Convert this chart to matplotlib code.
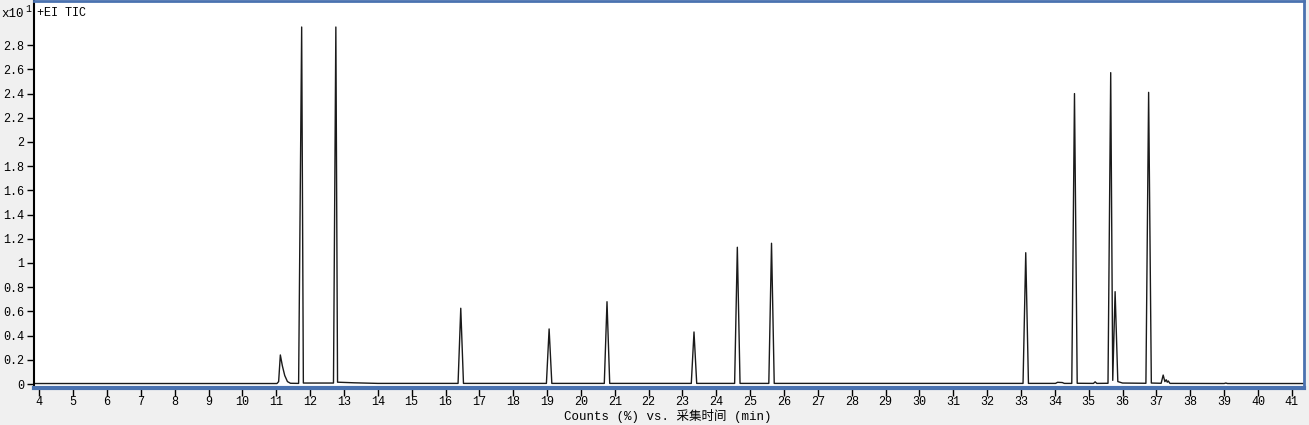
import matplotlib.pyplot as plt
from matplotlib.ticker import FuncFormatter

# retention time (min) and counts (x10^1), peak by peak
rt = [3.88, 11.02,
      11.07, 11.12, 11.18, 11.25, 11.33, 11.42,      # small peak with tail
      11.66, 11.75, 11.80,                           # big peak 1
      12.69, 12.76, 12.81, 13.3, 14.0,               # big peak 2
      16.37, 16.45, 16.53,
      18.98, 19.06, 19.14,
      20.69, 20.77, 20.85,
      23.26, 23.34, 23.42,
      24.54, 24.62, 24.70,
      25.55, 25.63, 25.71,
      33.06, 33.14, 33.22,
      34.02, 34.08, 34.22, 34.28,
      34.50, 34.58, 34.66,
      35.14, 35.19, 35.24,
      35.57, 35.65, 35.71, 35.78, 35.86, 36.0,
      36.69, 36.77, 36.85,
      37.14, 37.20, 37.25, 37.29, 37.32, 37.35, 37.40,
      39.00, 39.05, 39.10, 41.36]
counts = [0.004, 0.004,
          0.02, 0.24, 0.15, 0.07, 0.02, 0.006,
          0.005, 2.95, 0.008,
          0.008, 2.95, 0.015, 0.01, 0.005,
          0.005, 0.626, 0.005,
          0.005, 0.455, 0.005,
          0.005, 0.68, 0.005,
          0.005, 0.43, 0.005,
          0.005, 1.13, 0.005,
          0.005, 1.163, 0.005,
          0.005, 1.085, 0.005,
          0.005, 0.014, 0.012, 0.005,
          0.005, 2.40, 0.006,
          0.005, 0.018, 0.005,
          0.006, 2.573, 0.03, 0.763, 0.02, 0.008,
          0.006, 2.41, 0.008,
          0.006, 0.074, 0.02, 0.035, 0.015, 0.025, 0.005,
          0.004, 0.008, 0.004, 0.004]

xticks = list(range(4, 42))
yticks = [i * 0.2 for i in range(15)]

blue = '#4a72b0'
mono = 'Liberation Mono'

fig = plt.figure(figsize=(13.09, 4.25), dpi=100, facecolor='#f0f0f0')
ax = fig.add_axes([34/1309, 1 - 388/425, 1270/1309, 387/425])
ax.set_facecolor('white')

ax.plot(rt, counts, color='#1a1a1a', lw=1.0)

ax.set_xlim(3.843, 41.36)
ax.set_ylim(-0.033, 3.165)
ax.set_xticks(xticks)
ax.set_yticks(yticks)
ax.yaxis.set_major_formatter(FuncFormatter(lambda v, p: f'{round(v, 1):g}'))

for lab in ax.get_xticklabels() + ax.get_yticklabels():
    lab.set_family(mono)
    lab.set_fontsize(8.5)
ax.tick_params(axis='x', direction='out', length=6, width=1, color='black', pad=0)
ax.tick_params(axis='y', direction='out', length=5, width=1, color='black', pad=2)

ax.spines['left'].set_color('black')
ax.spines['left'].set_linewidth(1.5)
ax.spines['top'].set_color(blue)
ax.spines['top'].set_linewidth(2)
ax.spines['right'].set_color(blue)
ax.spines['right'].set_linewidth(2)
ax.spines['bottom'].set_color(blue)
ax.spines['bottom'].set_linewidth(3)

fig.text(1/1309, 1 - 17/425, 'x10', family=mono, fontsize=9)
fig.text(25/1309, 1 - 12/425, '1', family=mono, fontsize=7)
fig.text(37/1309, 1 - 16/425, '+EI TIC', family=mono, fontsize=8.5)
fig.text(668/1309, 1 - 420/425, 'Counts (%) vs. 采集时间 (min)',
         family=[mono, 'Noto Sans CJK SC'], fontsize=9, ha='center')

plt.savefig('out.png', dpi=100, facecolor=fig.get_facecolor())
